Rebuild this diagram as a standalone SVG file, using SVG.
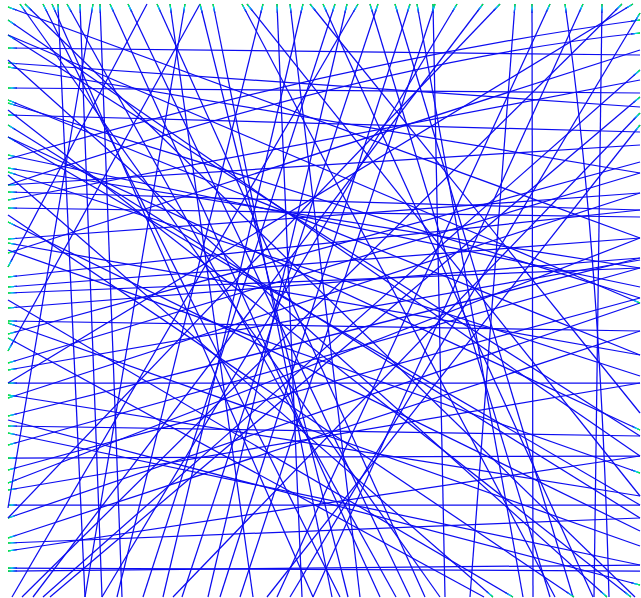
<svg xmlns="http://www.w3.org/2000/svg" width="641" height="598" viewBox="0 0 641 598">
<defs>
<linearGradient id="gr" gradientUnits="userSpaceOnUse" x1="-9" y1="0" x2="0" y2="0"><stop offset="0" stop-color="#1010f0"/><stop offset="0.55" stop-color="#00e0f0"/><stop offset="1" stop-color="#00ff00"/></linearGradient>
<marker id="m" viewBox="-9 -1 9 2" markerWidth="9" markerHeight="2" refX="0" refY="0" orient="auto-start-reverse" markerUnits="userSpaceOnUse"><path d="M-9,0H0" stroke="url(#gr)" stroke-width="1.4"/></marker>
<style>
#connectors line,#connectors path{stroke:#0c0cf0;stroke-width:1.25;fill:none;marker-end:url(#m)}
</style>
</defs>
<rect width="641" height="598" fill="#fff"/>
<g id="connectors">
<line x1="640" y1="238" x2="8" y2="7"/>
<line x1="640" y1="456" x2="8" y2="20"/>
<line x1="640" y1="436" x2="8" y2="35"/>
<line x1="640" y1="55" x2="8" y2="48"/>
<line x1="640" y1="107" x2="8" y2="63"/>
<line x1="640" y1="173" x2="8" y2="67"/>
<line x1="640" y1="93" x2="8" y2="88"/>
<line x1="640" y1="355" x2="8" y2="100"/>
<line x1="640" y1="298" x2="8" y2="103"/>
<line x1="640" y1="132" x2="8" y2="115"/>
<line x1="640" y1="518" x2="8" y2="125"/>
<line x1="640" y1="505" x2="8" y2="137"/>
<line x1="640" y1="287" x2="8" y2="155"/>
<line x1="640" y1="268" x2="8" y2="168"/>
<line x1="640" y1="376" x2="8" y2="172"/>
<line x1="640" y1="145" x2="8" y2="185"/>
<line x1="640" y1="210" x2="8" y2="192"/>
<line x1="640" y1="80" x2="8" y2="200"/>
<line x1="640" y1="217" x2="8" y2="208"/>
<line x1="640" y1="531" x2="8" y2="222"/>
<line x1="640" y1="193" x2="8" y2="239"/>
<line x1="640" y1="355" x2="8" y2="243"/>
<line x1="640" y1="50" x2="8" y2="253"/>
<line x1="147" y1="4" x2="8" y2="267"/>
<line x1="640" y1="210" x2="8" y2="277"/>
<line x1="640" y1="238" x2="8" y2="287"/>
<line x1="640" y1="268" x2="8" y2="293"/>
<line x1="640" y1="258" x2="8" y2="308"/>
<line x1="640" y1="331" x2="8" y2="321"/>
<line x1="640" y1="546" x2="8" y2="323"/>
<line x1="640" y1="162" x2="8" y2="334"/>
<line x1="484" y1="597" x2="8" y2="338"/>
<line x1="200" y1="4" x2="8" y2="351"/>
<line x1="640" y1="173" x2="8" y2="363"/>
<line x1="640" y1="260" x2="8" y2="370"/>
<line x1="640" y1="383" x2="8" y2="383"/>
<line x1="640" y1="496" x2="8" y2="395"/>
<line x1="640" y1="193" x2="8" y2="398"/>
<line x1="640" y1="258" x2="8" y2="416"/>
<line x1="640" y1="436" x2="8" y2="426"/>
<line x1="640" y1="565" x2="8" y2="433"/>
<line x1="640" y1="268" x2="8" y2="445"/>
<line x1="640" y1="456" x2="8" y2="458"/>
<line x1="640" y1="298" x2="8" y2="470"/>
<line x1="640" y1="238" x2="8" y2="483"/>
<line x1="640" y1="383" x2="8" y2="490"/>
<line x1="640" y1="505" x2="8" y2="505"/>
<line x1="640" y1="303" x2="8" y2="518"/>
<line x1="640" y1="331" x2="8" y2="538"/>
<line x1="640" y1="518" x2="8" y2="543"/>
<line x1="640" y1="456" x2="8" y2="551"/>
<line x1="640" y1="571" x2="8" y2="568"/>
<line x1="640" y1="565" x2="8" y2="571"/>
<line x1="440" y1="597" x2="20" y2="4"/>
<line x1="635" y1="597" x2="25" y2="4"/>
<line x1="340" y1="597" x2="43" y2="4"/>
<line x1="313" y1="597" x2="52" y2="4"/>
<line x1="85" y1="597" x2="58" y2="4"/>
<line x1="396" y1="597" x2="67" y2="4"/>
<line x1="102" y1="597" x2="80" y2="4"/>
<line x1="8" y1="508" x2="93" y2="4"/>
<line x1="122" y1="597" x2="100" y2="4"/>
<line x1="380" y1="597" x2="110" y2="4"/>
<line x1="410" y1="597" x2="128" y2="4"/>
<line x1="425" y1="597" x2="157" y2="4"/>
<line x1="253" y1="597" x2="170" y2="4"/>
<line x1="85" y1="597" x2="185" y2="4"/>
<line x1="348" y1="597" x2="200" y2="4"/>
<line x1="332" y1="597" x2="213" y2="4"/>
<line x1="555" y1="597" x2="242" y2="4"/>
<line x1="640" y1="496" x2="247" y2="4"/>
<line x1="117" y1="597" x2="263" y2="4"/>
<line x1="302" y1="597" x2="277" y2="4"/>
<line x1="360" y1="597" x2="290" y2="4"/>
<line x1="163" y1="597" x2="303" y2="4"/>
<line x1="640" y1="413" x2="310" y2="4"/>
<line x1="593" y1="597" x2="323" y2="4"/>
<line x1="143" y1="597" x2="335" y2="4"/>
<line x1="208" y1="597" x2="347" y2="4"/>
<line x1="12" y1="597" x2="358" y2="4"/>
<line x1="550" y1="597" x2="370" y2="4"/>
<line x1="182" y1="597" x2="378" y2="4"/>
<line x1="573" y1="597" x2="395" y2="4"/>
<line x1="220" y1="597" x2="410" y2="4"/>
<line x1="523" y1="597" x2="417" y2="4"/>
<line x1="445" y1="597" x2="433" y2="4"/>
<line x1="240" y1="597" x2="435" y2="4"/>
<line x1="102" y1="597" x2="457" y2="4"/>
<line x1="33" y1="597" x2="483" y2="4"/>
<line x1="8" y1="518" x2="500" y2="4"/>
<line x1="470" y1="597" x2="515" y2="4"/>
<line x1="533" y1="597" x2="532" y2="4"/>
<line x1="277" y1="597" x2="550" y2="4"/>
<path d="M609,597Q600,250 565,4"/>
<line x1="313" y1="597" x2="583" y2="4"/>
<line x1="594" y1="597" x2="602" y2="4"/>
<line x1="22" y1="597" x2="622" y2="4"/>
<line x1="8" y1="383" x2="633" y2="4"/>
<path d="M8,159Q350,60 640,20"/>
<path d="M8,185Q380,60 640,33"/>
<line x1="43" y1="597" x2="640" y2="70"/>
<line x1="50" y1="597" x2="640" y2="97"/>
<line x1="173" y1="597" x2="640" y2="113"/>
<line x1="267" y1="597" x2="640" y2="125"/>
<line x1="290" y1="597" x2="640" y2="13"/>
<line x1="8" y1="35" x2="640" y2="303"/>
<line x1="8" y1="137" x2="640" y2="430"/>
<line x1="8" y1="250" x2="640" y2="473"/>
<line x1="8" y1="420" x2="640" y2="585"/>
<line x1="8" y1="60" x2="607" y2="597"/>
<line x1="8" y1="110" x2="631" y2="597"/>
<line x1="8" y1="215" x2="574" y2="597"/>
<line x1="8" y1="300" x2="513" y2="597"/>
<line x1="8" y1="175" x2="493" y2="597"/>
</g>
</svg>
